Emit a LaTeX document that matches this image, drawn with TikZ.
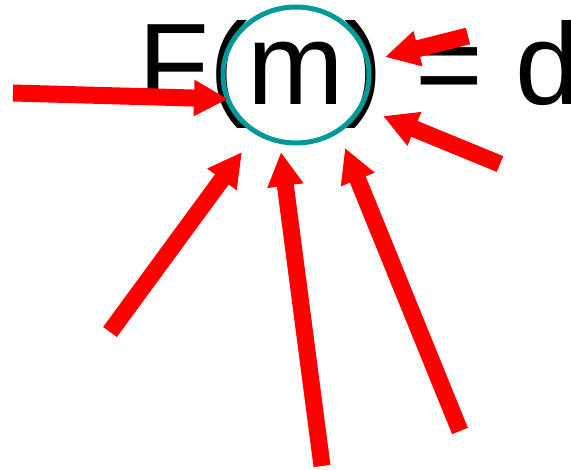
\documentclass[tikz,border=0pt]{standalone}
\usepackage{fontspec}
\setmainfont{Liberation Sans}
\usetikzlibrary{arrows.meta}
\definecolor{ringteal}{RGB}{0,153,153}
\tikzset{
  bigarrow/.style={draw=red, line width=17pt, line cap=butt,
    -{Triangle[length=34pt,width=34pt]}},
  ring/.style={draw=ringteal, line width=5pt},
  formula/.style={inner sep=0pt, anchor=base west, font=\fontsize{116}{116}\selectfont}
}
\begin{document}
\begin{tikzpicture}[x=1pt,y=-1pt]
\useasboundingbox (0,0) rectangle (571,470);
\clip (0,0) rectangle (571,470);
\node[formula] (eq) at (138,105) {F(m) = d};
\draw[ring] (296,75) ellipse [x radius=73, y radius=68];
\coordinate (t1) at (13,93);   \coordinate (h1) at (228,99);
\coordinate (t2) at (468,36);  \coordinate (h2) at (385,57);
\coordinate (t3) at (500,164); \coordinate (h3) at (383,116);
\coordinate (t4) at (110,332); \coordinate (h4) at (242,152);
\coordinate (t5) at (322,466); \coordinate (h5) at (281,152);
\coordinate (t6) at (460,431); \coordinate (h6) at (345,148);
\draw[bigarrow] (t1) -- (h1);
\draw[bigarrow] (t2) -- (h2);
\draw[bigarrow] (t3) -- (h3);
\draw[bigarrow] (t4) -- (h4);
\draw[bigarrow] (t5) -- (h5);
\draw[bigarrow] (t6) -- (h6);
\end{tikzpicture}
\end{document}
